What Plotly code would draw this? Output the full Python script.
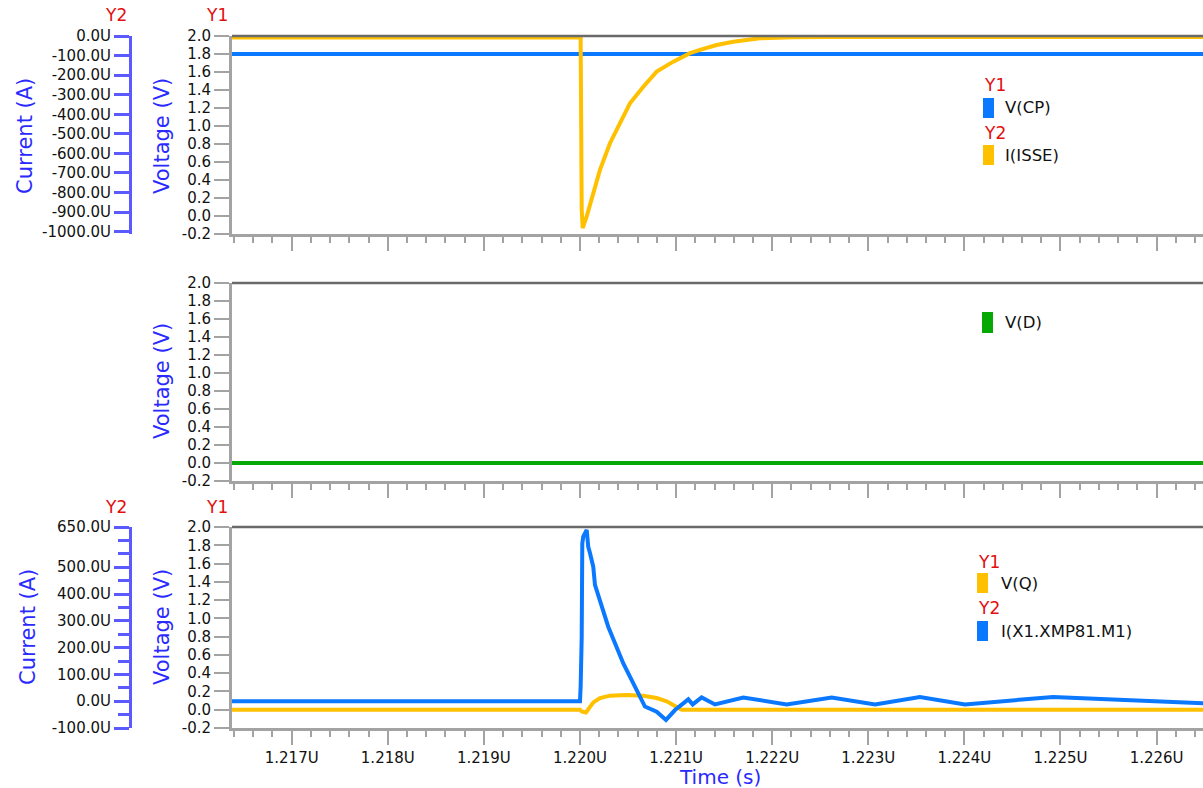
import plotly.graph_objects as go

W, H = 1203, 788
FONT = "DejaVu Sans"
BLUE = "#0a78ff"
YELLOW = "#ffc000"
GREEN = "#06a806"
TITLE_BLUE = "#2a2aff"
AXIS_BLUE = "#5a5aff"
RED = "#e31010"
GRAY = "#a3a3a3"
FRAME = "#6a6a6a"

# ---- data (time in microseconds, currents in microamps) ----
vcp_t = [1.2160, 1.2270]
vcp_v = [1.8, 1.8]

isse_t = [1.2160, 1.220007, 1.220018, 1.220028, 1.220070, 1.220139, 1.220208,
          1.220312, 1.220416, 1.220520, 1.220659, 1.220798, 1.220971, 1.221145,
          1.221249, 1.221422, 1.221595, 1.221873, 1.222216, 1.222567, 1.2270]
isse_i = [-8, -8, -888, -982, -922, -803, -684,
          -548, -446, -344, -259, -182, -131, -88,
          -71, -46, -29, -12, -7, -5, -5]

vd_t = [1.2160, 1.2270]
vd_v = [0.0, 0.0]

vq_t = [1.2160, 1.220000, 1.220018, 1.220062, 1.220139, 1.220208, 1.220312,
        1.220486, 1.220659, 1.220798, 1.220902, 1.220989, 1.221058, 1.2270]
vq_v = [0.0, 0.0, -0.02, -0.03, 0.08, 0.128, 0.154,
        0.161, 0.154, 0.128, 0.092, 0.037, 0.0, 0.0]

m1_t = [1.2160, 1.220000, 1.220007, 1.220018, 1.220024, 1.220034, 1.220070,
        1.220086, 1.220104, 1.220138, 1.220156, 1.220294, 1.220451, 1.220676,
        1.220798, 1.220895, 1.220989, 1.221127, 1.221173, 1.221266, 1.221405,
        1.221699, 1.222151, 1.222619, 1.223070, 1.223537, 1.224006, 1.224922,
        1.226483, 1.2270]
m1_i = [0, 0, 54, 241, 589, 614, 639,
        576, 553, 502, 434, 278, 141, -20,
        -39, -70, -33, 7, -12, 14, -12,
        14, -12, 14, -12, 16, -12, 16,
        -8, -9]

# tick values / labels
volt_ticks = [-0.2, 0.0, 0.2, 0.4, 0.6, 0.8, 1.0, 1.2, 1.4, 1.6, 1.8, 2.0]
volt_labels = [f"{v:.1f}" for v in volt_ticks]
isse_ticks = [0, -100, -200, -300, -400, -500, -600, -700, -800, -900, -1000]
isse_labels = [f"{v:.1f}U" for v in isse_ticks]
m1_ticks = [650, 500, 400, 300, 200, 100, 0, -100]
m1_labels = [f"{v:.1f}U" for v in m1_ticks]
m1_minor = [600, 550, 450, 350, 250, 150, 50, -50]

T_RANGE = [1.216379, 1.226483]


def px(x):
    return x / W


def py(y):
    return 1 - y / H


X_DOM = [px(232), 1.0]
D1 = [py(234), py(36)]
D2 = [py(481), py(283)]
D3 = [py(728), py(527)]

fig = go.Figure()
line_w = 4
fig.add_trace(go.Scatter(x=vcp_t, y=vcp_v, mode="lines", line=dict(color=BLUE, width=line_w),
                         xaxis="x", yaxis="y", name="V(CP)", showlegend=False))
fig.add_trace(go.Scatter(x=isse_t, y=isse_i, mode="lines", line=dict(color=YELLOW, width=line_w),
                         xaxis="x", yaxis="y2", name="I(ISSE)", showlegend=False))
fig.add_trace(go.Scatter(x=vd_t, y=vd_v, mode="lines", line=dict(color=GREEN, width=line_w),
                         xaxis="x2", yaxis="y3", name="V(D)", showlegend=False))
fig.add_trace(go.Scatter(x=vq_t, y=vq_v, mode="lines", line=dict(color=YELLOW, width=line_w),
                         xaxis="x3", yaxis="y4", name="V(Q)", showlegend=False))
fig.add_trace(go.Scatter(x=m1_t, y=m1_i, mode="lines", line=dict(color=BLUE, width=line_w),
                         xaxis="x3", yaxis="y5", name="I(X1.XMP81.M1)", showlegend=False))

tick_font = dict(family=FONT, size=15, color="#111111")


def time_axis(anchor, labels):
    return dict(domain=X_DOM, anchor=anchor, range=T_RANGE, showgrid=False, zeroline=False,
                automargin=False,
                showline=True, linecolor=GRAY, linewidth=3,
                ticks="outside", ticklen=14, tickwidth=2, tickcolor=GRAY,
                tick0=1.217, dtick=0.001, tickformat=".3f", ticksuffix="U",
                showticklabels=labels, tickfont=tick_font,
                minor=dict(ticks="outside", ticklen=6, tickwidth=2, tickcolor=GRAY,
                           tick0=1.217, dtick=0.0002))


def volt_axis(dom, anchor):
    return dict(domain=dom, anchor=anchor, range=[-0.2, 2.0], showgrid=False, zeroline=False,
                automargin=False,
                showline=True, linecolor=GRAY, linewidth=3,
                ticks="outside", ticklen=15, tickwidth=2, tickcolor=GRAY,
                tickmode="array", tickvals=volt_ticks, ticktext=volt_labels,
                tickfont=tick_font)


def current_axis(over, rng, vals, labels, minor=None):
    ax = dict(overlaying=over, anchor="free", position=px(130), side="left",
              range=rng, showgrid=False, zeroline=False, automargin=False,
              showline=True, linecolor=AXIS_BLUE, linewidth=3,
              ticks="outside", ticklen=15, tickwidth=3, tickcolor=AXIS_BLUE,
              tickmode="array", tickvals=vals, ticktext=labels,
              tickfont=tick_font)
    if minor:
        ax["minor"] = dict(ticks="outside", ticklen=11, tickwidth=3, tickcolor=AXIS_BLUE,
                           tickvals=minor)
    return ax


fig.update_layout(
    width=W, height=H, margin=dict(l=0, r=0, t=0, b=0, pad=0, autoexpand=False),
    paper_bgcolor="white", plot_bgcolor="white", showlegend=False,
    font=dict(family=FONT),
    xaxis=time_axis("y", False),
    xaxis2=time_axis("y3", False),
    xaxis3=time_axis("y4", True),
    yaxis=volt_axis(D1, "x"),
    yaxis3=volt_axis(D2, "x2"),
    yaxis4=volt_axis(D3, "x3"),
    yaxis2=current_axis("y", [-1012, 0], isse_ticks, isse_labels),
    yaxis5=current_axis("y4", [-100, 650], m1_ticks, m1_labels, m1_minor),
)

# dark top border of each panel
for dom in (D1, D2, D3):
    fig.add_shape(type="line", xref="paper", yref="paper", x0=X_DOM[0], x1=1.0,
                  y0=dom[1], y1=dom[1], line=dict(color=FRAME, width=2.5))

annotations = []


def text(x, y, s, size, color, angle=0, xanchor="center"):
    annotations.append(dict(x=px(x), y=py(y), xref="paper", yref="paper", text=s,
                            showarrow=False, textangle=angle, xanchor=xanchor,
                            yanchor="middle", font=dict(family=FONT, size=size, color=color)))


# axis titles
text(25, 136, "Current (A)", 21, TITLE_BLUE, -90)
text(162, 136, "Voltage (V)", 21, TITLE_BLUE, -90)
text(162, 381, "Voltage (V)", 21, TITLE_BLUE, -90)
text(28, 627, "Current (A)", 21, TITLE_BLUE, -90)
text(162, 627, "Voltage (V)", 21, TITLE_BLUE, -90)
text(720, 777, "Time (s)", 20, TITLE_BLUE)

# axis tags
text(116, 15, "Y2", 17, RED)
text(217, 15, "Y1", 17, RED)
text(116, 507, "Y2", 17, RED)
text(217, 507, "Y1", 17, RED)

# legends
legend_items = [
    # (tag, tag_y, box_x, box_top, box_bottom, label, label_x, color)
    ("Y1", 85, 983, 98, 118, "V(CP)", 1003, BLUE),
    ("Y2", 133, 983, 145, 165, "I(ISSE)", 1003, YELLOW),
    (None, None, 982, 312, 333, "V(D)", 1003, GREEN),
    ("Y1", 562, 977, 573, 593, "V(Q)", 999, YELLOW),
    ("Y2", 608, 977, 621, 641, "I(X1.XMP81.M1)", 999, BLUE),
]
for tag, tag_y, bx, btop, bbot, label, lx, color in legend_items:
    if tag:
        text(bx - 1, tag_y, tag, 17, RED, xanchor="left")
    fig.add_shape(type="rect", xref="paper", yref="paper", x0=px(bx), x1=px(bx + 11),
                  y0=py(bbot), y1=py(btop), fillcolor=color, line=dict(width=0))
    text(lx, (btop + bbot) / 2, label, 16.5, "#111111", xanchor="left")

fig.update_layout(annotations=annotations)

fig.write_html("out.html")
